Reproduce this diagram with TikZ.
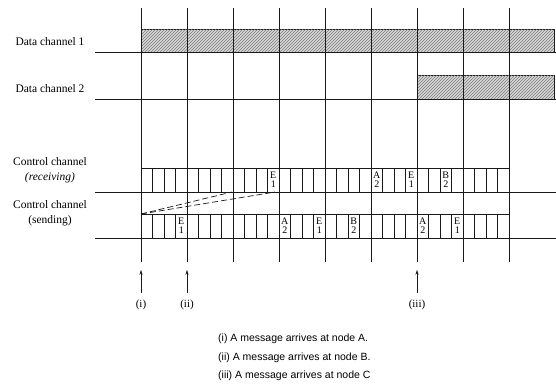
\documentclass[tikz,border=0pt]{standalone}
\usepackage{fontspec}
\setmainfont{Liberation Serif}
\setsansfont{Liberation Sans}
\usetikzlibrary{arrows.meta,positioning,patterns}
\definecolor{inkblack}{RGB}{25,25,25}
\definecolor{hatchgray}{RGB}{215,215,215}
\definecolor{hatchline}{RGB}{125,125,125}

\tikzset{
  chanlabel/.style={font=\fontsize{11.5}{15}\selectfont, align=center, inner sep=0pt},
  databar/.style={draw=inkblack, line width=0.9pt, fill=hatchgray,
    postaction={pattern=north east lines, pattern color=hatchline}},
  slotband/.style={draw=inkblack, line width=0.7pt},
  slotdiv/.style={draw=inkblack, line width=0.5pt},
  slotmark/.style={font=\fontsize{10}{9}\selectfont, align=center, inner sep=0pt},
  gridline/.style={draw=inkblack, line width=0.6pt},
  baseline/.style={draw=inkblack, line width=0.8pt},
  delayline/.style={draw=inkblack, line width=0.7pt, dash pattern=on 6pt off 3pt},
  eventarrow/.style={draw=inkblack, line width=0.6pt, -{Stealth[length=5pt,width=3pt]}},
  eventlabel/.style={font=\fontsize{11}{13}\selectfont, inner sep=1pt},
  notetext/.style={font=\sffamily\fontsize{10.5}{12}\selectfont, anchor=west, inner sep=0pt},
}

\begin{document}
\begin{tikzpicture}[x=1pt, y=-1pt]
  \useasboundingbox (0,0) rectangle (556,383);

  % channel labels
  \node[chanlabel] (dc1) at (50,42) {Data channel 1};
  \node[chanlabel] (dc2) at (50,89) {Data channel 2};
  \node[chanlabel] (ccrx) at (50,170.5) {Control channel\\\textit{(receiving)}};
  \node[chanlabel] (cctx) at (50,213.5) {Control channel\\(sending)};

  % data channels
  \draw[databar] (141,29) rectangle (554,52);
  \draw[databar] (417,75) rectangle (554,99);
  \foreach \y in {52,99,192,238}
    \draw[baseline] (95,\y) -- (556,\y);

  % control channel slots
  \draw[slotband] (141,168) rectangle (509,192);
  \draw[slotband] (141,214) rectangle (509,238);
  \foreach \k in {1,...,31} {
    \draw[slotdiv] ({141+11.5*\k},168) -- ({141+11.5*\k},192);
    \draw[slotdiv] ({141+11.5*\k},214) -- ({141+11.5*\k},238);
  }
  \foreach \k/\l/\n in {11/E/1,20/A/2,23/E/1,26/B/2}
    \node[slotmark] (rx\k) at ({141+11.5*(\k+0.5)},180) {\l\\\n};
  \foreach \k/\l/\n in {3/E/1,12/A/2,15/E/1,18/B/2,24/A/2,27/E/1}
    \node[slotmark] (tx\k) at ({141+11.5*(\k+0.5)},226) {\l\\\n};

  % time grid
  \foreach \i in {0,...,8}
    \draw[gridline] ({141+46*\i},8) -- ({141+46*\i},262);

  % propagation delay
  \coordinate (txstart) at (141,214);
  \coordinate (rxfirst) at (232,192);
  \coordinate (rxsecond) at (275,192);
  \draw[delayline] (txstart) -- (rxfirst);
  \draw[delayline] (txstart) -- (rxsecond);

  % message arrivals
  \node[eventlabel] (evA) at (141,305) {(i)};
  \node[eventlabel] (evB) at (187,305) {(ii)};
  \node[eventlabel] (evC) at (417,305) {(iii)};
  \foreach \e in {evA,evB,evC}
    \draw[eventarrow] ([yshift=6pt]\e.north) -- ++(0,-23);

  \node[notetext] (noteA) at (218,339) {(i) A message arrives at node A.};
  \node[notetext] (noteB) at (218,358) {(ii) A message arrives at node B.};
  \node[notetext] (noteC) at (218,376) {(iii) A message arrives at node C};
\end{tikzpicture}
\end{document}
